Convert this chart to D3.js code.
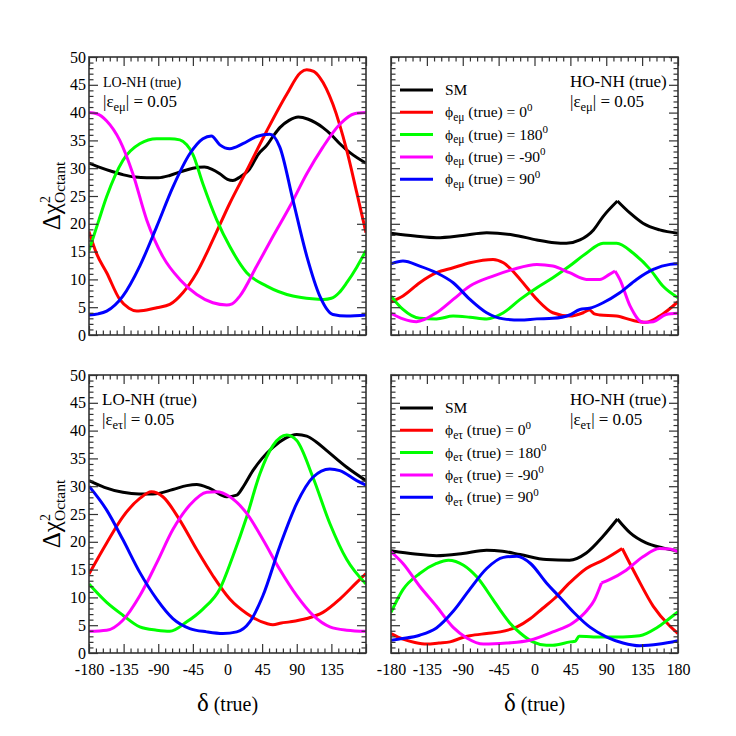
<!DOCTYPE html>
<html>
<head>
<meta charset="utf-8">
<script src="https://cdn.jsdelivr.net/npm/d3@7"></script>
<style>
  body { margin: 0; background: #fff; }
  text { font-family: "Liberation Serif", "Times New Roman", serif; fill: #000; }
</style>
</head>
<body>
<svg id="chart" width="736" height="736"></svg>
<script>
// ---- axes ----
const deltaMajor = [-180, -135, -90, -45, 0, 45, 90, 135, 180];
const chiMajor = [0, 5, 10, 15, 20, 25, 30, 35, 40, 45, 50];
const legendLabels = ["SM", "0", "180", "-90", "90"];

// ---- LO-NH (true), |eps_emu| = 0.05 : [delta, dchi2] ----
const loEmuSM = [[-180,30.9],[-165,30.1],[-150,29.4],[-135,28.8],[-120,28.4],[-105,28.3],[-90,28.3],[-75,28.7],[-60,29.4],[-45,30.0],[-30,30.2],[-20,29.8],[-10,29.0],[0,28.0],[7,27.8],[15,28.3],[29,29.9],[40,32.5],[51,34.1],[60,35.9],[68,37.3],[80,38.6],[92,39.2],[105,38.8],[124,37.3],[135,36.0],[146,34.4],[160,32.7],[180,30.9]];
const loEmuP0 = [[-180,18.6],[-170,14.6],[-157,11.2],[-140,6.4],[-128,4.8],[-118,4.3],[-105,4.5],[-92,4.9],[-75,5.5],[-58,7.6],[-40,11.2],[-19,17.1],[3,23.7],[25,29.6],[51,36.7],[77,43.3],[95,47.2],[103,47.7],[112,47.4],[120,46.3],[137,41.5],[155,33.2],[168,25.6],[180,18.4]];
const loEmuP180 = [[-180,15.2],[-168,20.3],[-157,24.9],[-136,31.4],[-114,34.4],[-92,35.3],[-75,35.3],[-62,35.1],[-53,34.2],[-45,32.5],[-32,27.2],[-14,20.7],[3,15.9],[25,11.2],[51,8.8],[85,7.0],[110,6.5],[125,6.4],[135,6.6],[145,7.6],[155,9.4],[168,12.2],[180,15.2]];
const loEmuPm90 = [[-180,40.0],[-170,39.8],[-157,38.5],[-140,35.0],[-123,29.0],[-105,20.7],[-84,14.1],[-62,10.0],[-40,7.3],[-19,5.8],[-1,5.4],[6,5.6],[16,7.0],[38,12.4],[59,17.7],[81,23.1],[103,29.0],[124,33.8],[146,37.9],[165,39.8],[180,40.0]];
const loEmuP90 = [[-180,3.6],[-168,3.8],[-157,4.3],[-136,7.0],[-114,12.4],[-92,19.5],[-71,26.6],[-49,32.6],[-32,35.3],[-21,35.8],[-10,34.2],[3,33.5],[20,34.4],[38,35.7],[55,36.1],[68,33.8],[85,24.3],[103,14.2],[120,7.0],[137,3.7],[155,3.4],[180,3.6]];

// ---- HO-NH (true), |eps_emu| = 0.05 ----
const hoEmuSM = [[-180,18.3],[-150,17.8],[-123,17.5],[-90,17.9],[-60,18.4],[-27,18.0],[3,17.1],[25,16.6],[40,16.5],[57,17.1],[74,18.9],[86,21.3],[104,24.1],[120,21.9],[136,20.1],[157,18.9],[180,18.3]];
const hoEmuP0 = [[-180,5.9],[-165,7.0],[-144,9.4],[-123,11.2],[-102,12.1],[-81,13.0],[-52,13.6],[-39,13.0],[-18,10.0],[3,6.4],[23,4.0],[44,3.4],[61,4.0],[69,4.5],[75,3.8],[82,3.6],[103,3.4],[124,2.6],[140,2.3],[157,3.4],[180,6.0]];
const hoEmuP180 = [[-180,7.0],[-165,4.6],[-144,3.0],[-123,2.9],[-102,3.4],[-81,3.2],[-60,2.9],[-39,4.0],[-18,6.4],[3,8.5],[23,10.3],[44,12.4],[65,14.7],[86,16.5],[103,16.5],[124,14.7],[145,11.8],[161,8.8],[180,6.7]];
const hoEmuPm90 = [[-180,3.9],[-165,2.9],[-148,2.4],[-123,4.0],[-102,6.4],[-81,8.8],[-52,10.6],[-27,11.8],[3,12.7],[23,12.4],[44,11.2],[65,10.0],[82,10.0],[94,10.9],[101,11.5],[107,10.0],[120,5.2],[136,2.3],[149,2.4],[165,3.7],[180,3.9]];
const hoEmuP90 = [[-180,12.8],[-165,13.3],[-144,12.4],[-123,11.2],[-102,9.4],[-81,6.4],[-60,4.0],[-39,2.9],[-18,2.7],[3,2.9],[23,3.0],[44,3.6],[57,4.6],[69,4.8],[86,5.8],[107,7.6],[128,10.0],[149,11.8],[170,12.7],[180,12.8]];

// ---- LO-NH (true), |eps_etau| = 0.05 ----
const loEtauSM = [[-180,31.0],[-160,29.8],[-136,28.9],[-115,28.6],[-97,28.6],[-71,29.4],[-53,30.1],[-40,30.3],[-23,29.6],[-1,28.1],[12,28.4],[20,29.8],[33,32.8],[45,35.0],[59,37.0],[75,38.6],[90,39.3],[103,39.0],[115,38.0],[129,36.4],[155,33.4],[180,31.0]];
const loEtauP0 = [[-180,14.2],[-157,19.8],[-136,24.5],[-114,27.8],[-99,29.0],[-84,28.1],[-62,23.9],[-40,18.6],[-19,13.9],[3,9.7],[25,7.1],[51,5.3],[59,5.1],[70,5.4],[81,5.6],[103,6.2],[124,7.3],[146,9.7],[168,12.7],[180,14.3]];
const loEtauP180 = [[-180,12.4],[-157,9.1],[-136,6.8],[-114,4.7],[-92,4.1],[-75,3.9],[-53,5.6],[-32,7.9],[-10,11.5],[7,17.4],[25,24.5],[42,32.2],[59,37.3],[77,39.2],[90,38.2],[111,31.6],[133,23.3],[155,16.8],[180,12.4]];
const loEtauPm90 = [[-180,3.9],[-157,4.1],[-136,5.9],[-114,10.3],[-92,16.2],[-71,22.2],[-49,26.6],[-27,28.9],[-14,29.0],[3,28.1],[25,25.1],[46,20.4],[68,15.0],[90,10.3],[111,6.8],[133,4.7],[155,4.1],[180,3.9]];
const loEtauP90 = [[-180,30.0],[-157,25.7],[-136,20.4],[-114,14.5],[-92,9.7],[-71,6.2],[-49,4.4],[-27,3.8],[-6,3.5],[12,3.8],[29,5.6],[46,10.3],[68,19.2],[90,26.9],[111,31.6],[133,33.1],[146,32.8],[168,31.0],[180,30.2]];

// ---- HO-NH (true), |eps_etau| = 0.05 ----
const hoEtauSM = [[-180,18.4],[-150,17.8],[-123,17.5],[-90,17.9],[-60,18.5],[-40,18.3],[-18,17.7],[15,16.8],[44,16.7],[65,18.0],[86,21.0],[104,24.1],[120,21.6],[140,19.8],[161,18.9],[180,18.3]];
const hoEtauP0 = [[-180,3.5],[-165,2.5],[-150,1.9],[-135,1.6],[-120,1.8],[-106,2.0],[-90,2.8],[-81,3.1],[-60,3.5],[-43,3.8],[-22,4.7],[-5,6.2],[10,8.0],[25,9.8],[44,12.6],[65,15.2],[86,16.7],[110,18.8],[128,13.8],[149,8.4],[170,4.8],[180,3.5]];
const hoEtauP180 = [[-180,7.3],[-165,11.4],[-144,14.3],[-123,16.1],[-108,16.7],[-89,15.8],[-73,13.8],[-52,9.6],[-43,7.7],[-31,5.4],[-18,3.6],[-2,2.0],[15,1.4],[23,1.4],[45,2.0],[51,2.1],[56,3.0],[74,2.9],[111,2.9],[132,3.1],[153,4.5],[170,6.3],[180,7.4]];
const hoEtauPm90 = [[-180,18.2],[-165,16.1],[-144,12.0],[-123,8.4],[-102,4.6],[-85,2.7],[-64,1.6],[-35,1.8],[-6,2.3],[23,3.8],[48,5.4],[66,7.7],[75,9.5],[84,12.6],[94,13.2],[115,14.9],[136,17.3],[157,18.8],[170,18.7],[180,18.2]];
const hoEtauP90 = [[-180,2.3],[-165,2.6],[-144,3.2],[-123,4.5],[-102,7.5],[-81,11.5],[-60,15.2],[-39,17.2],[-22,17.4],[-5,16.1],[15,12.6],[32,10.0],[50,7.2],[70,4.6],[90,2.9],[111,1.8],[132,1.3],[157,1.6],[180,2.2]];

// cusps (delta values where the curve has a corner)
const hoSMCusp = [104];
const hoEmuPm90Cusp = [101];
const hoEtauP0Cusp = [110];
const hoEtauPm90Cusp = [84];

const colors = ["#000000", "#ff0000", "#00ff00", "#ff00ff", "#0000ff"];

const panels = [
  { box: [89, 366, 57, 335], yLabels: true, xLabels: false, hier: "LO-NH (true)", hierSize: 14, hierX: 103, eps: "eμ", legend: false,
    series: [loEmuSM, loEmuP0, loEmuP180, loEmuPm90, loEmuP90], cusps: [[], [], [], [], []] },
  { box: [391, 678, 57, 335], yLabels: false, xLabels: false, hier: "HO-NH (true)", hierSize: 17, hierX: 570, eps: "eμ", legend: true,
    series: [hoEmuSM, hoEmuP0, hoEmuP180, hoEmuPm90, hoEmuP90], cusps: [hoSMCusp, [], [], hoEmuPm90Cusp, []] },
  { box: [89, 366, 375, 653], yLabels: true, xLabels: true, hier: "LO-NH (true)", hierSize: 17, hierX: 102, eps: "eτ", legend: false,
    series: [loEtauSM, loEtauP0, loEtauP180, loEtauPm90, loEtauP90], cusps: [[], [], [], [], []] },
  { box: [391, 678, 375, 653], yLabels: false, xLabels: true, hier: "HO-NH (true)", hierSize: 17, hierX: 570, eps: "eτ", legend: true,
    series: [hoEtauSM, hoEtauP0, hoEtauP180, hoEtauPm90, hoEtauP90], cusps: [hoSMCusp, hoEtauP0Cusp, [], hoEtauPm90Cusp, []] }
];

const svg = d3.select("#chart");
const frameColor = "#333";

// text with sub/superscripts: parts are strings or {t, size, shift, dx}
function rich(sel, x, y, parts, size, anchor) {
  const t = sel.append("text")
    .attr("x", x).attr("y", y)
    .attr("font-size", size)
    .attr("text-anchor", anchor || "start");
  let cur = 0;
  parts.forEach(p => {
    const s = typeof p === "string" ? { t: p } : p;
    const target = s.shift || 0;
    t.append("tspan")
      .attr("dy", target - cur)
      .attr("dx", s.dx || 0)
      .attr("font-size", s.size || size)
      .text(s.t);
    cur = target;
  });
  return t;
}

function splitAt(pts, cusps) {
  if (!cusps.length) return [pts];
  const out = [];
  let seg = [];
  pts.forEach(p => {
    seg.push(p);
    if (cusps.includes(p[0])) { out.push(seg); seg = [p]; }
  });
  out.push(seg);
  return out;
}

panels.forEach((P, pi) => {
  const [x0, x1, y0, y1] = P.box;
  const x = d3.scaleLinear().domain([-180, 180]).range([x0, x1]);
  const y = d3.scaleLinear().domain([0, 50]).range([y1, y0]);
  const g = svg.append("g");

  const clipId = "clip" + pi;
  svg.append("clipPath").attr("id", clipId)
    .append("rect").attr("x", x0).attr("y", y0).attr("width", x1 - x0).attr("height", y1 - y0);

  // curves
  const line = d3.line().x(d => x(d[0])).y(d => y(d[1])).curve(d3.curveMonotoneX);
  const curves = g.append("g").attr("clip-path", `url(#${clipId})`);
  P.series.forEach((s, i) => {
    splitAt(s, P.cusps[i]).forEach(seg => {
      curves.append("path")
        .attr("d", line(seg))
        .attr("fill", "none")
        .attr("stroke", colors[i])
        .attr("stroke-width", 3)
        .attr("stroke-linejoin", "round");
    });
  });

  // ticks on all four sides, pointing inward
  const xMinor = d3.range(-180, 181, 9).filter(v => v % 45 !== 0);
  const yMinor = d3.range(0, 51, 1).filter(v => v % 5 !== 0);
  const styleAxis = a => {
    a.select(".domain").remove();
    a.selectAll("line").attr("stroke", frameColor).attr("stroke-width", 1.2);
    a.attr("font-family", null).attr("font-size", 16);
  };
  const xFmt = P.xLabels ? (d => (P.yLabels && d === 180) ? "" : d) : () => "";
  const yFmt = P.yLabels ? (d => d) : () => "";

  g.append("g").attr("transform", `translate(0,${y1})`)
    .call(d3.axisBottom(x).tickValues(deltaMajor).tickSize(-9).tickPadding(10.5).tickFormat(xFmt)).call(styleAxis);
  g.append("g").attr("transform", `translate(0,${y1})`)
    .call(d3.axisBottom(x).tickValues(xMinor).tickSize(-4.5).tickFormat("")).call(styleAxis);
  g.append("g").attr("transform", `translate(0,${y0})`)
    .call(d3.axisTop(x).tickValues(deltaMajor).tickSize(-9).tickFormat("")).call(styleAxis);
  g.append("g").attr("transform", `translate(0,${y0})`)
    .call(d3.axisTop(x).tickValues(xMinor).tickSize(-4.5).tickFormat("")).call(styleAxis);
  g.append("g").attr("transform", `translate(${x0},0)`)
    .call(d3.axisLeft(y).tickValues(chiMajor).tickSize(-9).tickPadding(3).tickFormat(yFmt)).call(styleAxis);
  g.append("g").attr("transform", `translate(${x0},0)`)
    .call(d3.axisLeft(y).tickValues(yMinor).tickSize(-4.5).tickFormat("")).call(styleAxis);
  g.append("g").attr("transform", `translate(${x1},0)`)
    .call(d3.axisRight(y).tickValues(chiMajor).tickSize(-9).tickFormat("")).call(styleAxis);
  g.append("g").attr("transform", `translate(${x1},0)`)
    .call(d3.axisRight(y).tickValues(yMinor).tickSize(-4.5).tickFormat("")).call(styleAxis);

  g.selectAll("text").attr("fill", "#000");

  // frame
  g.append("rect")
    .attr("x", x0).attr("y", y0).attr("width", x1 - x0).attr("height", y1 - y0)
    .attr("fill", "none").attr("stroke", frameColor).attr("stroke-width", 1.6);

  // hierarchy / coupling labels
  rich(g, P.hierX, y0 + 30, [P.hier], P.hierSize);
  rich(g, P.hierX, y0 + 50, ["|ε", { t: P.eps, size: 12.5, shift: 4 }, { t: "| = 0.05", shift: 0 }], 17);

  // legend
  if (P.legend) {
    legendLabels.forEach((lab, i) => {
      const ly = y0 + 33 + i * 22.3;
      g.append("line")
        .attr("x1", x0 + 9).attr("x2", x0 + 42).attr("y1", ly).attr("y2", ly)
        .attr("stroke", colors[i]).attr("stroke-width", 3);
      if (i === 0) {
        rich(g, x0 + 54, ly + 5, ["SM"], 15.5);
      } else {
        rich(g, x0 + 54, ly + 5, ["ϕ", { t: P.eps, size: 11.5, shift: 3.5 }, { t: " (true) = " + lab, shift: 0 }, { t: "0", size: 11, shift: -6.5 }], 15.5);
      }
    });
  }

  // axis titles
  if (P.yLabels) {
    const ty = svg.append("g").attr("transform", `translate(60,${(y0 + y1) / 2}) rotate(-90)`);
    rich(ty, 0, 0, ["Δχ", { t: "2", size: 14, shift: -10 }, { t: "Octant", size: 15.5, shift: 5, dx: -7 }], 25, "middle");
  }
  if (P.xLabels) {
    rich(svg, (x0 + x1) / 2, y1 + 58, [{ t: "δ", size: 25 }, { t: " (true)", size: 20 }], 20, "middle");
  }
});
</script>
</body>
</html>
